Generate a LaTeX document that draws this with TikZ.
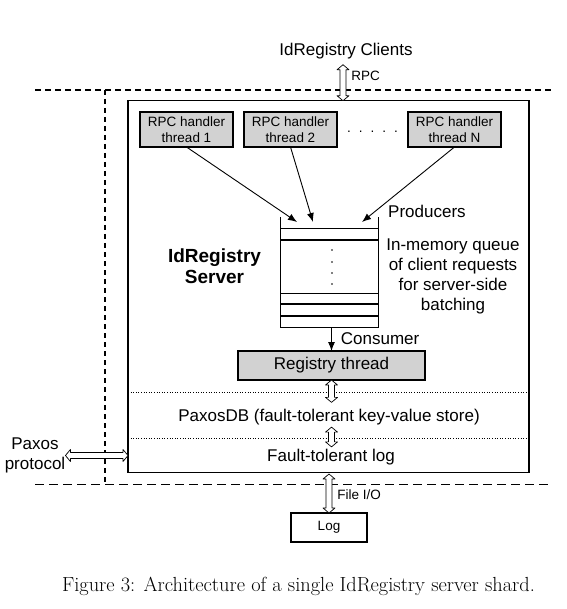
\documentclass[tikz,border=0pt]{standalone}
\usepackage{fontspec}
\setsansfont{Liberation Sans}
\usepackage{xcolor}
\usepackage{tikz}
\usetikzlibrary{arrows.meta,positioning,calc}
\tikzset{
	box/.style={draw, align=center, inner sep=0pt, outer sep=0pt},
	threadbox/.style={box, fill=gray!35, line width=1.5pt},
	arrow/.style={-{Latex[length=9pt,width=7pt]}, line width=0.9pt},
	% hollow two-headed block arrow between two points
	pipe/.style={draw, fill=white, line width=0.7pt, line join=round,
		to path={
			(\tikztostart)
			-- ($($(\tikztostart)!5pt!(\tikztotarget)$)!6pt!90:(\tikztotarget)$)
			-- ($($(\tikztostart)!5pt!(\tikztotarget)$)!3pt!90:(\tikztotarget)$)
			-- ($($(\tikztotarget)!5pt!(\tikztostart)$)!3pt!-90:(\tikztostart)$) \tikztonodes
			-- ($($(\tikztotarget)!5pt!(\tikztostart)$)!6pt!-90:(\tikztostart)$)
			-- (\tikztotarget)
			-- ($($(\tikztotarget)!5pt!(\tikztostart)$)!6pt!90:(\tikztostart)$)
			-- ($($(\tikztotarget)!5pt!(\tikztostart)$)!3pt!90:(\tikztostart)$)
			-- ($($(\tikztostart)!5pt!(\tikztotarget)$)!3pt!-90:(\tikztotarget)$)
			-- ($($(\tikztostart)!5pt!(\tikztotarget)$)!6pt!-90:(\tikztotarget)$)
			-- cycle}},
	txt/.style={font=\sffamily\fontsize{17}{20}\selectfont, align=center, inner sep=0pt},
	smalltxt/.style={font=\sffamily\fontsize{13.5}{15.5}\selectfont, align=center, inner sep=0pt},
	sepline/.style={dotted, line width=0.6pt},
	fence/.style={line width=1.4pt, dash pattern=on 6pt off 4pt}
}

\begin{document}
\begin{tikzpicture}[x=1pt, y=-1pt, node distance=11pt and 11pt]
	\useasboundingbox (0,0) rectangle (566,609);
	
	%% ── Shard boundaries (dashed) ─────────────────────────────────────
	\draw[fence] (35,90) -- (552,90);
	\draw[fence, dash pattern=on 5pt off 4pt] (105,90) -- (105,484);
	\draw[fence, line width=0.9pt, dash pattern=on 9pt off 5pt] (35,484) -- (552,484);
	
	%% ── IdRegistry server box ────────────────────────────────────────
	\node[box, line width=1.1pt, minimum width=401pt, minimum height=372pt] (server)
		at (328.5,286.7) {};
	
	%% ── Clients (top) ─────────────────────────────────────────────────
	\node[txt, anchor=base] (clients) at (346,56) {IdRegistry Clients};
	\draw[pipe] ([xshift=-3pt,yshift=-5pt]clients.south) to
		node[smalltxt, pos=0.25, right=5pt]{RPC} ([xshift=-3pt]clients.south |- server.north);
	
	%% ── RPC handler threads ───────────────────────────────────────────
	\node[threadbox, smalltxt, minimum width=93pt, minimum height=35pt] (h1)
		at (186.5,129.5) {RPC handler\\thread 1};
	\node[threadbox, smalltxt, minimum width=93pt, minimum height=35pt,
		right=11pt of h1] (h2) {RPC handler\\thread 2};
	\node[threadbox, smalltxt, minimum width=93pt, minimum height=35pt,
		right=71pt of h2] (hN) {RPC handler\\thread N};
	\node[smalltxt, anchor=base] (hdots) at ($(h2.east)!0.5!(hN.west)+(0,3.5)$)
		{.\hspace{8pt}.\hspace{8pt}.\hspace{8pt}.\hspace{8pt}.};
	
	%% ── In-memory queue ───────────────────────────────────────────────
	\node[minimum width=98pt, minimum height=110pt, inner sep=0pt, outer sep=0pt] (queue)
		at (329,272) {};
	\draw[line width=0.8pt] (queue.north west) -- (queue.south west) --
		(queue.south east) -- (queue.north east);
	\foreach \dy/\lw in {11/0.8, 23/1.9, 76/0.8, 87/1.9, 99/1.9}
		\draw[line width=\lw pt] ([yshift=-\dy pt]queue.north west) -- ([yshift=-\dy pt]queue.north east);
	\foreach \dy in {33,45,56,67}
		\fill ([xshift=3pt,yshift=-\dy pt]queue.north) circle (0.8pt);
	
	\draw[arrow] (h1.south) -- ([xshift=-32pt,yshift=-5pt]queue.north);
	\draw[arrow] (h2.south) -- ([xshift=-16pt,yshift=-5pt]queue.north);
	\draw[arrow] (hN.south) -- ([xshift=33pt,yshift=-5pt]queue.north);
	
	\node[txt, right=10pt of queue.north east, yshift=6pt] (prod) {Producers};
	\node[txt, anchor=north] (qnote) at (453,238.6)
		{In-memory queue\\of client requests\\for server-side\\batching};
	\node[txt, font=\sffamily\bfseries\fontsize{19}{21}\selectfont] (srvname)
		at (214.5,266.5) {IdRegistry\\Server};
	
	%% ── Registry thread (consumer) ────────────────────────────────────
	\node[threadbox, txt, minimum width=187pt, minimum height=29pt] (reg)
		at (331.5,365.5) {Registry thread};
	\draw[arrow] (queue.south -| reg.north) --
		node[txt, midway, right=9pt]{Consumer} (reg.north);
	
	%% ── Storage layers ────────────────────────────────────────────────
	\draw[sepline] (server.west |- 0,392) -- (server.east |- 0,392);
	\draw[sepline] (server.west |- 0,438) -- (server.east |- 0,438);
	\node[txt] (pdb) at (329,417.5) {PaxosDB (fault-tolerant key-value store)};
	\node[txt] (ftlog) at (331,457.5) {Fault-tolerant log};
	\draw[pipe] (reg.south) to ([yshift=7pt]reg.south |- pdb.north);
	\draw[pipe] ([yshift=-1.5pt]reg.south |- pdb.south) to ([yshift=2.5pt]reg.south |- ftlog.north);
	
	%% ── Paxos peers (left) ────────────────────────────────────────────
	\node[txt] (paxos) at (35,455.5) {Paxos\\protocol};
	\draw[pipe] (paxos.east) to (paxos.east -| server.west);
	
	%% ── Log file (bottom) ─────────────────────────────────────────────
	\node[box, smalltxt, line width=1.1pt, minimum width=76pt, minimum height=29pt] (logbox)
		at (329,527.5) {Log};
	\draw[pipe] ([yshift=-1.3pt]logbox.north |- server.south) to
		node[smalltxt, pos=0.55, right=5pt]{File I/O} (logbox.north);
	
	%% ── Caption ───────────────────────────────────────────────────────
	\node[font=\fontsize{20.4}{24}\selectfont, anchor=base] (caption) at (298.5,591.5)
		{Figure 3: Architecture of a single IdRegistry server shard.};
\end{tikzpicture}
\end{document}
